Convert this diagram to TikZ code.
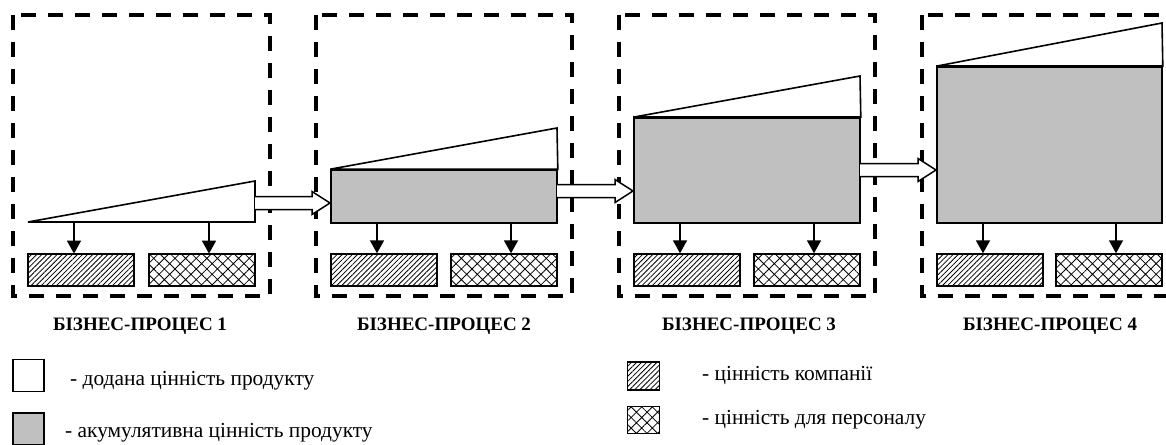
\documentclass[tikz,border=0pt]{standalone}
\usepackage{fontspec}
\setmainfont{Liberation Serif}
\usetikzlibrary{patterns.meta,arrows.meta,calc}
\definecolor{valgray}{RGB}{192,192,192}
\tikzset{
  panelbox/.style={line width=3.5pt,dash pattern=on 15pt off 12pt},
  shapeline/.style={line width=1.6pt,line join=miter},
  compbox/.style={draw,line width=1.4pt,minimum width=106pt,minimum height=32pt,inner sep=0pt,
    pattern={Lines[angle=45,distance=3.6pt,line width=0.8pt]}},
  persbox/.style={draw,line width=1.4pt,minimum width=106pt,minimum height=32pt,inner sep=0pt,
    pattern={Hatch[angle=45,distance=7.5pt,line width=0.8pt]}},
  accbox/.style={draw,line width=1.6pt,fill=valgray,inner sep=0pt},
  downarr/.style={line width=1.5pt,-{Triangle[length=13pt,width=14pt]}},
  transfer/.style={draw,fill=white,line width=1.5pt,line join=miter},
  title/.style={font=\fontsize{19}{22}\selectfont\bfseries,inner sep=0pt},
  legtext/.style={font=\fontsize{21.4}{25}\selectfont,inner sep=0pt,anchor=west},
}
\newcommand\transferarrow[2]{%
  \path[transfer] ($(#1)+(0,-6.5)$) -- ($(#2)+(-18,-6.5)$) -- ($(#2)+(-18,-11.5)$) -- (#2)
    -- ($(#2)+(-18,11.5)$) -- ($(#2)+(-18,6.5)$) -- ($(#1)+(0,6.5)$);}
\begin{document}
\begin{tikzpicture}[x=1pt,y=-1pt]
\useasboundingbox (0,0) rectangle (1166,444);
\clip (0,0) rectangle (1166,444);

% dashed panels
\draw[panelbox] (13,15) rectangle (270,296);
\draw[panelbox] (316,15) rectangle (572,296);
\draw[panelbox] (619,15) rectangle (875,296);
\draw[panelbox] (922,15) rectangle (1178,296);

% panel 1
\draw[shapeline,fill=white] (28,222) -- (255,181) -- (255,222) -- cycle;
% panel 2
\node[accbox,minimum width=226pt,minimum height=53pt] (v2) at (444,196.5) {};
\draw[shapeline,fill=white] (v2.north west) -- (557,128) -- (v2.north east) -- cycle;
% panel 3
\node[accbox,minimum width=226pt,minimum height=105pt] (v3) at (747,170.5) {};
\draw[shapeline,fill=white] (v3.north west) -- (860,76) -- (v3.north east) -- cycle;
\draw[line width=3pt] (v3.north west) -- (v3.north east);
% panel 4
\node[accbox,minimum width=225pt,minimum height=156pt] (v4) at (1049.5,145) {};
\draw[shapeline,fill=white] (v4.north west) -- (1162,23) -- (v4.north east) -- cycle;
\draw[line width=3pt] (v4.north west) -- (v4.north east);

% value boxes
\foreach \i/\L/\R in {1/28/255,2/331/557,3/634/860,4/937/1162}{
  \node[compbox] (c\i) at (\L+53,270) {};
  \node[persbox] (p\i) at (\R-53,270) {};
  \coordinate (ca\i) at (\L+46,222.5);
  \coordinate (pa\i) at (\R-46,222.5);
  \draw[downarr] (ca\i) -- (ca\i |- c\i.north);
  \draw[downarr] (pa\i) -- (pa\i |- p\i.north);
}

% transfer arrows
\coordinate (s1) at (255,203); \coordinate (e1) at (330,203);
\coordinate (s2) at (557,191); \coordinate (e2) at (633,191);
\coordinate (s3) at (860,170); \coordinate (e3) at (936,170);
\transferarrow{s1}{e1}
\transferarrow{s2}{e2}
\transferarrow{s3}{e3}

% titles
\node[title] (t1) at (140,326) {БІЗНЕС-ПРОЦЕС 1};
\node[title] (t2) at (444,326) {БІЗНЕС-ПРОЦЕС 2};
\node[title] (t3) at (749,326) {БІЗНЕС-ПРОЦЕС 3};
\node[title] (t4) at (1050,326) {БІЗНЕС-ПРОЦЕС 4};

% legend
\node[draw,line width=1.4pt,minimum width=31pt,minimum height=32pt,inner sep=0pt] (lw) at (28.5,375.5) {};
\node[legtext] (lwt) at (70,381) {- додана цінність продукту};
\node[draw,line width=1.4pt,fill=valgray,minimum width=31pt,minimum height=32pt,inner sep=0pt] (lg) at (28.5,429) {};
\node[legtext] (lgt) at (65,433) {- акумулятивна цінність продукту};
\node[draw,line width=1.4pt,minimum width=32pt,minimum height=28pt,inner sep=0pt,
  pattern={Lines[angle=45,distance=3.6pt,line width=0.8pt]}] (lc) at (643.5,376) {};
\node[legtext] (lct) at (702,375) {- цінність компанії};
\node[draw,line width=1.4pt,minimum width=32pt,minimum height=27pt,inner sep=0pt,
  pattern={Hatch[angle=45,distance=7.5pt,line width=0.8pt]}] (lp) at (643.5,420) {};
\node[legtext] (lpt) at (702,420) {- цінність для персоналу};
\end{tikzpicture}
\end{document}
